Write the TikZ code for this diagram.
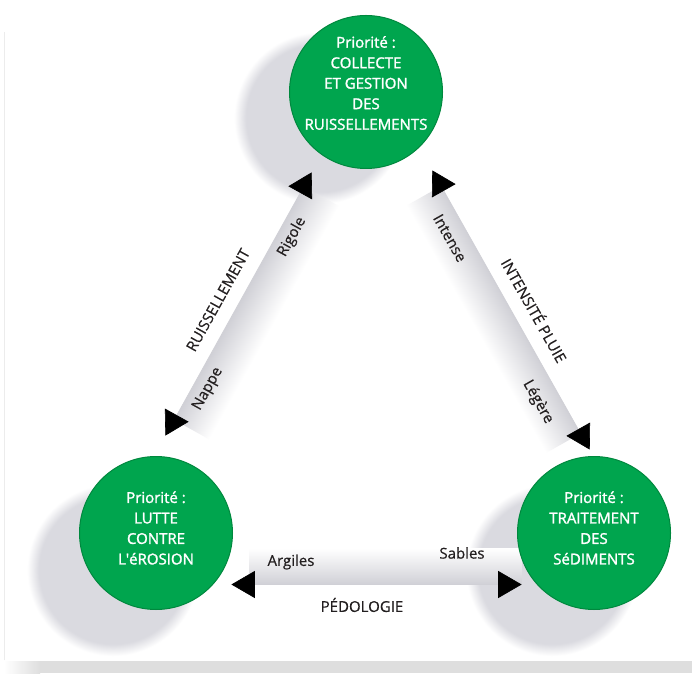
\documentclass[tikz,border=0pt]{standalone}
\usepackage{fontspec}
\setmainfont{Open Sans}
\newfontfamily\circfont[FakeBold=1.6]{Open Sans}
\newfontfamily\labfont[FakeBold=0.4]{Open Sans}
\usetikzlibrary{arrows.meta,calc}
\definecolor{cgreen}{RGB}{0,165,78}
\definecolor{cgreendark}{RGB}{0,136,62}
\definecolor{shadowgray}{RGB}{218,218,224}
\definecolor{bandgray}{RGB}{208,208,214}
\definecolor{labelblack}{RGB}{35,31,32}
\definecolor{stripgray}{RGB}{222,222,222}
\definecolor{framegray}{RGB}{236,236,236}
\pgfdeclareradialshading{softshadow}{\pgfpoint{0bp}{0bp}}{color(0bp)=(shadowgray); color(21.5bp)=(shadowgray); color(25bp)=(white); color(50bp)=(white)}
\tikzset{
  tipmark/.tip={Triangle[length=23.4pt,width=27pt,color=black]},
  conn/.style={draw=bandgray, line width=0.6pt, arrows={tipmark-tipmark}},
  prio/.style={circle, fill=cgreen, draw=cgreendark, line width=1pt, minimum size=153pt, inner sep=0pt},
  circtext/.style={text=white, align=center, inner sep=0pt, font=\circfont\fontsize{15}{20.5}\selectfont},
  lab/.style={text=labelblack, inner sep=0pt, font=\labfont\fontsize{15}{18}\selectfont},
  shadowdisk/.style={shading=softshadow},
}
\begin{document}
\begin{tikzpicture}[x=1pt,y=1pt]
\useasboundingbox (0,0) rectangle (692,675);
\fill[white] (0,0) rectangle (692,675);
% frame remnants
\draw[framegray, line width=0.8pt] (4.5,15) -- (4.5,643);
\shade[left color=white, right color=stripgray] (4,2) rectangle (40,14);
\fill[stripgray] (40,2) rectangle (692,14);

% arrow tip coordinates
\coordinate (lt) at (311.6,502.6);
\coordinate (lb) at (165.4,239.4);
\coordinate (rt) at (432.3,504.6);
\coordinate (rb) at (589.7,225.4);
\coordinate (bl) at (231.4,90.5);
\coordinate (br) at (521.6,90.5);

% circle shadows
\shade[shadowdisk] (320,557) circle (86);
\shade[shadowdisk] (113,105) circle (86);
\shade[shadowdisk] (552,105) circle (86);

% gradient bands
\shade[transform canvas={shift={(lb)}, rotate=60.95}, top color=bandgray, bottom color=white] (18,-40) rectangle (285,0);
\shade[transform canvas={shift={(rt)}, rotate=-60.58}, top color=bandgray, bottom color=white] (18,-40) rectangle (302,0);
\shade[transform canvas={shift={(br)}, rotate=180}, top color=bandgray, bottom color=white] (0,-36) rectangle (272,0);

% connectors
\draw[conn] (lb) -- (lt);
\draw[conn] (rt) -- (rb);
\draw[conn] (bl) -- (br);

% priority circles
\node[prio] (T) at (366,583) {};
\node[prio] (L) at (156,142) {};
\node[prio] (R) at (594,142) {};
\node[circtext] (Tt) at ([yshift=9pt]T.center) {Priorité :\\COLLECTE\\ET GESTION\\DES\\RUISSELLEMENTS};
\node[circtext] (Lt) at ([yshift=5pt]L.center) {Priorité :\\LUTTE\\CONTRE\\L\textquotesingle éROSION};
\node[circtext] (Rt) at ([yshift=5pt]R.center) {Priorité :\\TRAITEMENT\\DES\\SéDIMENTS};

% labels
\node[lab, rotate=60.95] (ruis) at (218,375) {RUISSELLEMENT};
\node[lab, rotate=60.95] (rig) at (292,438) {Rigole};
\node[lab, rotate=60.95] (nap) at (208,286) {Nappe};
\node[lab, rotate=-60.58] (int) at (450,437) {Intense};
\node[lab, rotate=-60.58] (ip) at (535,365) {INTENSITÉ PLUIE};
\node[lab, rotate=-60.58] (leg) at (538,273) {Légère};
\node[lab] (arg) at (291,113) {Argiles};
\node[lab] (sab) at (462,122) {Sables};
\node[lab] (ped) at (362,70) {PÉDOLOGIE};
\end{tikzpicture}
\end{document}
